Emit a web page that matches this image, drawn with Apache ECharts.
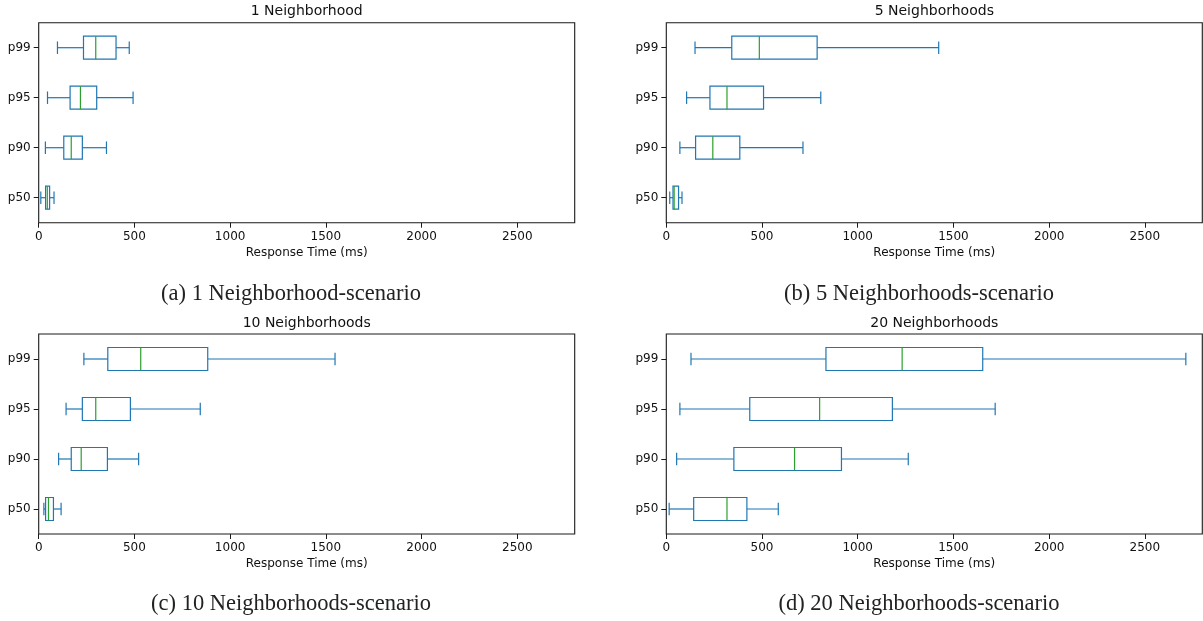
<!DOCTYPE html>
<html><head><meta charset="utf-8">
<script src="https://cdn.jsdelivr.net/npm/echarts@6/dist/echarts.min.js"></script>
<style>html,body{margin:0;padding:0;background:#fff}#c{width:1203px;height:621px}</style>
</head><body><div id="c"></div><script>
// categories (bottom to top)
const categories = ['p50', 'p90', 'p95', 'p99'];
const xTicks = [0, 500, 1000, 1500, 2000, 2500];
const xMax = 2800;
const titles = ['1 Neighborhood', '5 Neighborhoods', '10 Neighborhoods', '20 Neighborhoods'];
const captions = ['(a) 1 Neighborhood-scenario', '(b) 5 Neighborhoods-scenario',
                  '(c) 10 Neighborhoods-scenario', '(d) 20 Neighborhoods-scenario'];

// [lower whisker, Q1, median, Q3, upper whisker] in ms
const n1P50 = [11, 36, 45, 57, 80];
const n1P90 = [35, 131, 170, 228, 354];
const n1P95 = [46, 164, 218, 303, 493];
const n1P99 = [98, 234, 298, 404, 473];

const n5P50 = [18, 35, 41, 64, 82];
const n5P90 = [71, 153, 243, 384, 714];
const n5P95 = [106, 228, 317, 508, 807];
const n5P99 = [150, 342, 486, 788, 1423];

const n10P50 = [27, 36, 51, 77, 117];
const n10P90 = [104, 170, 222, 359, 522];
const n10P95 = [143, 228, 298, 479, 844];
const n10P99 = [236, 361, 533, 883, 1548];

const n20P50 = [15, 143, 317, 421, 585];
const n20P90 = [54, 353, 670, 915, 1264];
const n20P95 = [71, 436, 801, 1181, 1718];
const n20P99 = [129, 834, 1232, 1653, 2714];

const panels = [
  [n1P50, n1P90, n1P95, n1P99],
  [n5P50, n5P90, n5P95, n5P99],
  [n10P50, n10P90, n10P95, n10P99],
  [n20P50, n20P90, n20P95, n20P99]
];

const gridPos = [
  {left: 38.7, top: 22.7}, {left: 666.3, top: 22.7},
  {left: 38.7, top: 334}, {left: 666.3, top: 334}
];
const gridW = 536, gridH = 200;
const captionX = [291, 919, 291, 919];
const captionY = [294, 294, 604, 604];

const BLUE = '#1f77b4', GREEN = '#2ca02c', INK = '#1a1a1a';
const sans = 'DejaVu Sans';

function renderBox(params, api) {
  const cat = api.value(0);
  const lo = api.coord([api.value(1), cat]);
  const q1 = api.coord([api.value(2), cat]);
  const md = api.coord([api.value(3), cat]);
  const q3 = api.coord([api.value(4), cat]);
  const hi = api.coord([api.value(5), cat]);
  const band = api.size([0, 1])[1];
  const hb = band * 0.23, hc = band * 0.125;
  const y = lo[1];
  const s = {stroke: BLUE, lineWidth: 1.2, fill: null};
  return {type: 'group', children: [
    {type: 'line', shape: {x1: lo[0], y1: y, x2: q1[0], y2: y}, style: s},
    {type: 'line', shape: {x1: q3[0], y1: y, x2: hi[0], y2: y}, style: s},
    {type: 'line', shape: {x1: lo[0], y1: y - hc, x2: lo[0], y2: y + hc}, style: s},
    {type: 'line', shape: {x1: hi[0], y1: y - hc, x2: hi[0], y2: y + hc}, style: s},
    {type: 'rect', shape: {x: q1[0], y: y - hb, width: q3[0] - q1[0], height: 2 * hb},
      style: {stroke: BLUE, lineWidth: 1.2, fill: 'rgba(0,0,0,0)'}},
    {type: 'line', shape: {x1: md[0], y1: y - hb, x2: md[0], y2: y + hb},
      style: {stroke: GREEN, lineWidth: 1.2}}
  ]};
}

const grid = [], xAxis = [], yAxis = [], series = [], graphic = [];
panels.forEach((stats, i) => {
  grid.push({left: gridPos[i].left, top: gridPos[i].top, width: gridW, height: gridH,
    show: true, borderColor: INK, borderWidth: 1.1, backgroundColor: '#fff'});
  xAxis.push({type: 'value', gridIndex: i, min: 0, max: xMax, interval: 500,
    axisLine: {show: false},
    axisTick: {show: true, length: 5, lineStyle: {color: INK, width: 1}, customValues: xTicks},
    axisLabel: {customValues: xTicks, formatter: v => String(v), color: '#111', fontSize: 12, fontFamily: sans, margin: 8},
    splitLine: {show: false},
    name: 'Response Time (ms)', nameLocation: 'middle', nameGap: 24,
    nameTextStyle: {color: '#111', fontSize: 12, fontFamily: sans}});
  yAxis.push({type: 'category', gridIndex: i, data: categories,
    axisLine: {show: false},
    axisTick: {show: true, alignWithLabel: true, length: 5, lineStyle: {color: INK, width: 1}},
    axisLabel: {color: '#111', fontSize: 12, fontFamily: sans, margin: 8},
    splitLine: {show: false}});
  series.push({type: 'custom', xAxisIndex: i, yAxisIndex: i, renderItem: renderBox,
    encode: {x: [1, 2, 3, 4, 5], y: 0}, clip: false, silent: true,
    data: categories.map((c, k) => [k].concat(stats[k]))});
  graphic.push({type: 'text', x: gridPos[i].left + gridW / 2, y: gridPos[i].top - 11,
    style: {text: titles[i], fill: '#111', font: '14px "DejaVu Sans"', textAlign: 'center', textVerticalAlign: 'middle'}});
  graphic.push({type: 'text', x: captionX[i], y: captionY[i],
    style: {text: captions[i], fill: '#222', font: '22.5px "Liberation Serif"', textAlign: 'center', textVerticalAlign: 'middle'}});
});

const chart = echarts.init(document.getElementById('c'), null, {renderer: 'canvas'});
chart.setOption({animation: false, backgroundColor: '#fff', grid, xAxis, yAxis, series, graphic});
</script></body></html>
